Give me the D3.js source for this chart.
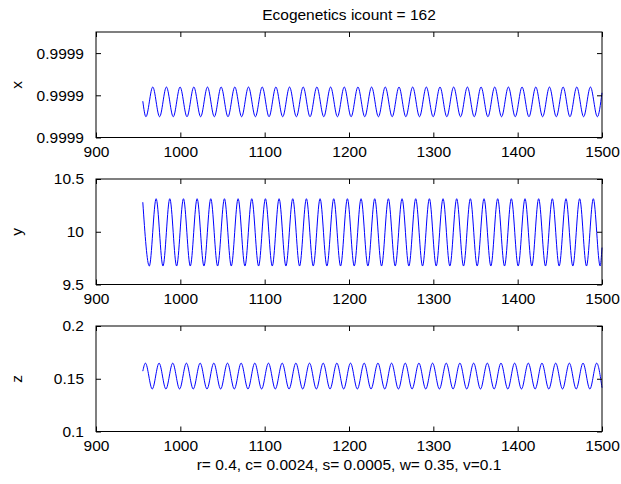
<!DOCTYPE html>
<style>
body { margin: 0; background: #fff; }
svg { font-family: "Liberation Sans", Arial, Helvetica, sans-serif; }
</style>
<svg width="621" height="484"></svg>
<script src="https://d3js.org/d3.v7.min.js"></script>
<script>

// shared time ticks
var timeTicks = [900, 1000, 1100, 1200, 1300, 1400, 1500];

// x series: extrema
var xStart = [955.5, 0.9998886], xEnd = [1500, 0.9998906];
var xPeakT = [967.3, 983.5, 999.7, 1016.0, 1032.2, 1048.4, 1064.6, 1080.8, 1097.1, 1113.3, 1129.5,
  1145.7, 1161.9, 1178.2, 1194.4, 1210.6, 1226.8, 1243.0, 1259.3, 1275.5, 1291.7, 1307.9, 1324.1,
  1340.4, 1356.6, 1372.8, 1389.0, 1405.2, 1421.5, 1437.7, 1453.9, 1470.1, 1486.3];
var xTroughT = [959.2, 975.4, 991.6, 1007.9, 1024.1, 1040.3, 1056.5, 1072.7, 1089.0, 1105.2, 1121.4,
  1137.6, 1153.8, 1170.1, 1186.3, 1202.5, 1218.7, 1234.9, 1251.2, 1267.4, 1283.6, 1299.8, 1316.0,
  1332.3, 1348.5, 1364.7, 1380.9, 1397.1, 1413.4, 1429.6, 1445.8, 1462.0, 1478.2, 1494.5];
var xPeakV = 0.99989196, xTroughV = 0.99988492;
var xTicks = [0.99988, 0.99989, 0.99990];

// y series
var yStart = [955.5, 10.28], yEnd = [1500, 9.85];
var yPeakT = [971.3, 987.5, 1003.7, 1019.9, 1036.1, 1052.3, 1068.5, 1084.7, 1100.9, 1117.1, 1133.3,
  1149.5, 1165.7, 1181.9, 1198.1, 1214.3, 1230.5, 1246.7, 1262.9, 1279.1, 1295.3, 1311.5, 1327.7,
  1343.9, 1360.1, 1376.3, 1392.5, 1408.7, 1424.9, 1441.1, 1457.3, 1473.5, 1489.7];
var yTroughT = [963.2, 979.4, 995.6, 1011.8, 1028.0, 1044.2, 1060.4, 1076.6, 1092.8, 1109.0, 1125.2,
  1141.4, 1157.6, 1173.8, 1190.0, 1206.2, 1222.4, 1238.6, 1254.8, 1271.0, 1287.2, 1303.4, 1319.6,
  1335.8, 1352.0, 1368.2, 1384.4, 1400.6, 1416.8, 1433.0, 1449.2, 1465.4, 1481.6, 1497.8];
var yPeakV = 10.313, yTroughV = 9.675;
var yTicks = [9.5, 10, 10.5];

// z series
var zStart = [955.5, 0.1572], zEnd = [1500, 0.1415];
var zPeakT = [958.6, 974.8, 991.0, 1007.2, 1023.5, 1039.7, 1055.9, 1072.1, 1088.3, 1104.5, 1120.8,
  1137.0, 1153.2, 1169.4, 1185.6, 1201.8, 1218.0, 1234.3, 1250.5, 1266.7, 1282.9, 1299.1, 1315.3,
  1331.5, 1347.8, 1364.0, 1380.2, 1396.4, 1412.6, 1428.8, 1445.1, 1461.3, 1477.5, 1493.7];
var zTroughT = [966.7, 982.9, 999.1, 1015.3, 1031.6, 1047.8, 1064.0, 1080.2, 1096.4, 1112.6, 1128.9,
  1145.1, 1161.3, 1177.5, 1193.7, 1209.9, 1226.1, 1242.4, 1258.6, 1274.8, 1291.0, 1307.2, 1323.4,
  1339.6, 1355.9, 1372.1, 1388.3, 1404.5, 1420.7, 1436.9, 1453.2, 1469.4, 1485.6];
var zPeakV = 0.1648, zTroughV = 0.1403;
var zTicks = [0.1, 0.15, 0.2];

var svg = d3.select("svg"),
    left = 96, right = 602, tickLen = 5;

var x = d3.scaleLinear().domain([900, 1500]).range([left, right]);

// build the point list of one series from its extrema
function points(start, peakT, peakV, troughT, troughV, end) {
  var pts = [start];
  peakT.forEach(function(t) { pts.push([t, peakV]); });
  troughT.forEach(function(t) { pts.push([t, troughV]); });
  pts.push(end);
  return pts.sort(function(a, b) { return a[0] - b[0]; });
}

var panels = [
  { label: "x", top: 32, dom: [0.99988, 0.999905], ticks: xTicks, fmt: d3.format(".4f"),
    data: points(xStart, xPeakT, xPeakV, xTroughT, xTroughV, xEnd) },
  { label: "y", top: 179, dom: [9.5, 10.5], ticks: yTicks, fmt: d3.format("~g"),
    data: points(yStart, yPeakT, yPeakV, yTroughT, yTroughV, yEnd) },
  { label: "z", top: 326, dom: [0.1, 0.2], ticks: zTicks, fmt: d3.format("~g"),
    data: points(zStart, zPeakT, zPeakV, zTroughT, zTroughV, zEnd) }
];
var h = 105.5;

panels.forEach(function(p) {
  var y = d3.scaleLinear().domain(p.dom).range([p.top + h, p.top]);
  var g = svg.append("g");

  var line = d3.line()
      .curve(d3.curveMonotoneX)
      .x(function(d) { return x(d[0]); })
      .y(function(d) { return y(d[1]); });

  g.append("path")
      .datum(p.data)
      .attr("fill", "none")
      .attr("stroke", "#0000ff")
      .attr("stroke-width", 1)
      .attr("d", line);

  // axes: bottom with labels, others ticks only (inside)
  g.append("g")
      .attr("transform", "translate(0," + (p.top + h) + ")")
      .call(d3.axisBottom(x).tickValues(timeTicks).tickSizeInner(-tickLen).tickSizeOuter(0)
        .tickPadding(8).tickFormat(d3.format("d")));
  g.append("g")
      .attr("transform", "translate(0," + p.top + ")")
      .call(d3.axisTop(x).tickValues(timeTicks).tickSizeInner(-tickLen).tickSizeOuter(0).tickFormat(""));
  g.append("g")
      .attr("transform", "translate(" + left + ",0)")
      .call(d3.axisLeft(y).tickValues(p.ticks).tickSizeInner(-tickLen).tickSizeOuter(0).tickPadding(12).tickFormat(p.fmt));
  g.append("g")
      .attr("transform", "translate(" + right + ",0)")
      .call(d3.axisRight(y).tickValues(p.ticks).tickSizeInner(-tickLen).tickSizeOuter(0).tickFormat(""));

  g.append("rect")
      .attr("x", left).attr("y", p.top)
      .attr("width", right - left).attr("height", h)
      .attr("fill", "none").attr("stroke", "#000");

  g.append("text")
      .attr("transform", "translate(22," + (p.top + h / 2) + ") rotate(-90)")
      .attr("text-anchor", "middle")
      .style("font-size", "15.5px")
      .text(p.label);
});

svg.selectAll(".domain").remove();
svg.selectAll(".tick line").attr("stroke", "#000");
svg.selectAll(".tick text")
    .attr("fill", "#000")
    .style("font-size", "15.5px")
    .style("font-family", "inherit");

svg.append("text")
    .attr("x", (left + right) / 2).attr("y", 20)
    .attr("text-anchor", "middle")
    .style("font-size", "15.5px")
    .text("Ecogenetics icount = 162");

svg.append("text")
    .attr("x", (left + right) / 2).attr("y", 470)
    .attr("text-anchor", "middle")
    .style("font-size", "15.5px")
    .text("r= 0.4, c= 0.0024, s= 0.0005, w= 0.35, v=0.1");

</script>
